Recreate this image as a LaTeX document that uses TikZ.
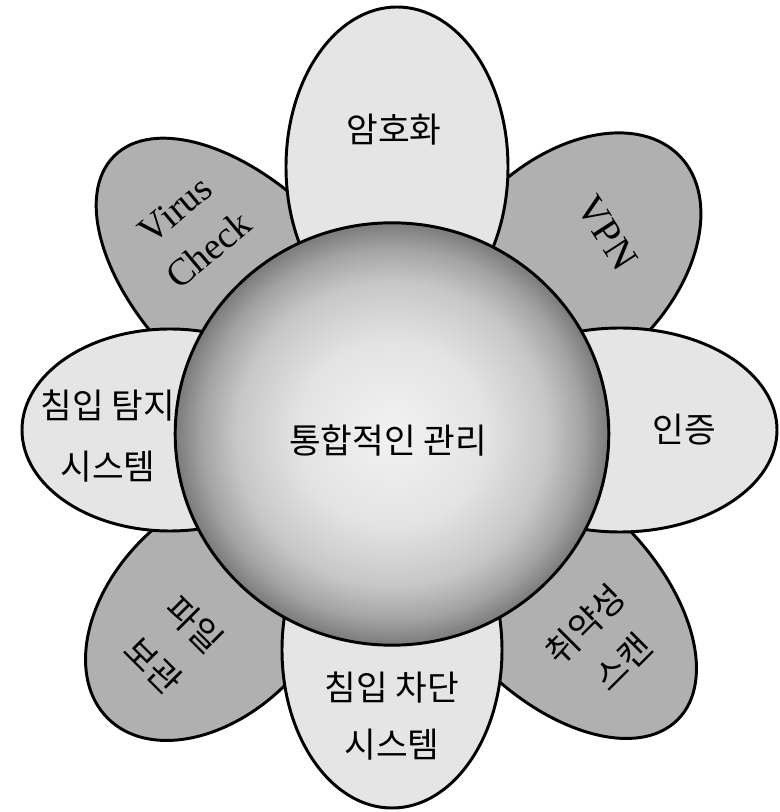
\documentclass[tikz,border=0pt]{standalone}
\usepackage{fontspec}
\newfontfamily\krfont{Noto Sans CJK KR}
\newfontfamily\enfont{Liberation Serif}
\definecolor{petallight}{gray}{0.9}
\definecolor{petaldark}{gray}{0.69}
\pgfdeclareradialshading{sphereshade}{\pgfpoint{0bp}{0bp}}{color(0bp)=(black!5); color(11bp)=(black!11); color(18bp)=(black!22); color(22bp)=(black!36); color(25bp)=(black!52); color(50bp)=(black!52)}

\begin{document}
\begin{tikzpicture}[line width=2.1pt,
  kr/.style={font=\krfont\fontsize{24.5}{41}\selectfont, align=center},
  en/.style={font=\enfont\fontsize{27}{37}\selectfont, align=center}]
  \useasboundingbox (-9.8,-9.45) rectangle (9.675,10.85);
  % petals between the main ones
  \foreach \ang/\c/\a/\b in {135/5.2/4.625/2.5, 44/6.0/4.0/2.625, 225/6.3/3.75/2.55, 315/5.725/4.375/2.5} {
    \draw[fill=petaldark, rotate=\ang] (\c,0) ellipse [x radius=\a, y radius=\b];
  }
  % main petals
  \draw[fill=petallight] (0.125,6.675) ellipse [x radius=2.775, y radius=4.0];
  \draw[fill=petallight] (5.7,0.1) ellipse [x radius=3.925, y radius=2.55];
  \draw[fill=petallight] (-5.55,0.1) ellipse [x radius=3.7, y radius=2.525];
  \draw[fill=petallight] (0,-5.4) ellipse [x radius=2.75, y radius=3.95];
  % sphere
  \shadedraw[shading=sphereshade] (0,0) ellipse [x radius=5.42, y radius=5.28];

  \node[kr] (mgmt) at (-0.1,-0.15) {통합적인 관리};
  \node[kr] (enc) at (0.05,7.6) {암호화};
  \node[kr] (auth) at (7.3,0.1) {인증};
  \node[kr, font=\krfont\fontsize{24.5}{44}\selectfont] (ids) at (-7.1,-0.05) {침입 탐지\\시스템};
  \node[kr] (ips) at (0,-7.05) {침입 차단\\시스템};
  \node[en, rotate=40] (virus) at (-5.0,5.1) {Virus\\Check};
  \node[en, font=\enfont\fontsize{28}{34}\selectfont, rotate=-57] (vpn) at (5.375,5.025) {VPN};
  \node[kr, rotate=-45] (file) at (-5.45,-5.275) {파일\\보관};
  \node[kr, font=\krfont\fontsize{24.5}{38}\selectfont, rotate=45] (scan) at (5.3,-5.225) {취약성\\스캔};
\end{tikzpicture}
\end{document}
